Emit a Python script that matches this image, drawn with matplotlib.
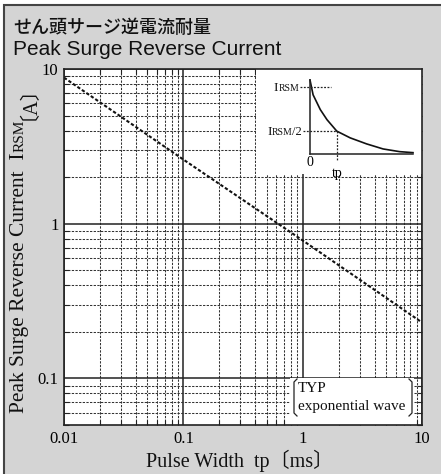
import matplotlib.pyplot as plt
from matplotlib.patches import Rectangle
from matplotlib.lines import Line2D
from matplotlib.ticker import FixedLocator, NullFormatter

# main curve
pulse_ms = [0.01, 0.1, 1, 10]
current_a = [8.8, 2.6, 0.78, 0.23]

x_ticks = [0.01, 0.1, 1, 10]
x_labels = ['0.01', '0.1', '1', '10']
y_ticks = [0.1, 1, 10]
y_labels = ['0.1', '1', '10']

# inset sketch of the exponential pulse
wave_t = [0.0, 0.03, 0.10, 0.165, 0.26, 0.39, 0.55, 0.71, 0.87, 1.0]
wave_i = [1.10, 0.88, 0.66, 0.51, 0.34, 0.24, 0.15, 0.075, 0.035, 0.02]
irsm_level = 1.0
half_level = 0.34
tp_pos = 0.26

W, H = 441, 474
serif = ['Liberation Serif', 'Noto Sans CJK JP']


def px(x, y):
    return x / W, 1 - y / H


fig = plt.figure(figsize=(W / 100, H / 100), dpi=100)
fig.patch.set_facecolor('white')
fig.patches.append(Rectangle(px(4, 480), 460 / W, 475 / H, transform=fig.transFigure,
                             facecolor='#d4d4d4', edgecolor='#444444', lw=1.5, zorder=-5))

fig.text(*px(13, 33), 'せん頭サージ逆電流耐量', family=['Noto Sans CJK JP'],
         fontsize=13, weight='medium', va='baseline', color='#111111')
fig.text(*px(13, 55), 'Peak Surge Reverse Current', family=['Liberation Sans'],
         fontsize=15, va='baseline', color='#111111')

ax = fig.add_axes([64 / W, 1 - 425 / H, 358 / W, 356 / H])
ax.set_xscale('log')
ax.set_yscale('log')
ax.set_xlim(0.01, 10)
ax.set_ylim(0.05, 10)
ax.set_facecolor('white')
ax.set_axisbelow(True)

ax.xaxis.set_major_locator(FixedLocator(x_ticks))
ax.yaxis.set_major_locator(FixedLocator(y_ticks))
ax.set_xticklabels(x_labels, family=serif, fontsize=12)
ax.set_yticklabels(y_labels, family=serif, fontsize=12)
ax.xaxis.set_minor_locator(FixedLocator([m * d for d in [0.01, 0.1, 1] for m in range(2, 10)]))
ax.yaxis.set_minor_locator(FixedLocator([m * d for d in [0.01, 0.1, 1] for m in range(2, 10)]))
ax.xaxis.set_minor_formatter(NullFormatter())
ax.yaxis.set_minor_formatter(NullFormatter())
ax.tick_params(which='both', direction='in', top=True, right=True, color='#222222')
ax.tick_params(which='major', length=0, pad=4)
ax.tick_params(which='minor', length=3.5, width=0.8)
ax.grid(which='major', color='#222222', lw=1.1, ls='-')
ax.grid(which='minor', color='#333333', lw=0.75, ls=(0, (2.2, 1.3)))
for s in ax.spines.values():
    s.set_linewidth(1.2)
    s.set_color('#222222')

# white areas over the grid for the inset and the note
ax.add_patch(Rectangle((0.41, 2.1), 10 - 0.41, 10 - 2.1, facecolor='white',
                       edgecolor='none', zorder=1.2))
ax.add_patch(Rectangle((0.78, 0.05), 8.55 - 0.78, 0.101 - 0.05, facecolor='white',
                       edgecolor='none', zorder=1.2))

ax.plot(pulse_ms, current_a, color='#111111', lw=1.5, ls=(0, (1.6, 1.0)), zorder=2)

# note with tall brackets
fig.text(*px(298, 392), 'TYP', family=serif, fontsize=11, va='baseline', color='#111111')
fig.text(*px(298, 410), 'exponential wave', family=serif, fontsize=11, va='baseline',
         color='#111111')
for pts in ([(297, 379), (294, 382), (294, 413), (297, 416)],
            [(409, 379), (412, 382), (412, 413), (409, 416)]):
    xs, ys = zip(*[px(a, b) for a, b in pts])
    fig.add_artist(Line2D(xs, ys, transform=fig.transFigure, color='#222222', lw=0.9))

# inset
ins = fig.add_axes([310 / W, 1 - 154 / H, 103 / W, 74 / H])
ins.set_xlim(0, 1)
ins.set_ylim(0, 1.1)
ins.patch.set_alpha(0)
ins.set_xticks([])
ins.set_yticks([])
for k in ['top', 'right']:
    ins.spines[k].set_visible(False)
for k in ['left', 'bottom']:
    ins.spines[k].set_linewidth(1.1)
    ins.spines[k].set_color('#222222')
ins.plot(wave_t, wave_i, color='#111111', lw=1.2, clip_on=False)
dot = dict(color='#222222', lw=0.9, ls=(0, (1.5, 1.2)), clip_on=False)
ins.plot([-0.1, 0.2], [irsm_level, irsm_level], **dot)
ins.plot([-0.07, tp_pos], [half_level, half_level], **dot)
ins.plot([tp_pos, tp_pos], [half_level, -0.1], **dot)
ins.text(0, -0.03, '0', family=serif, fontsize=10, ha='center', va='top')
ins.text(tp_pos, -0.2, 'tp', family=serif, fontsize=10, ha='center', va='top')

r = fig.canvas.get_renderer()


def caps_right(xr, yb, big, small, tail=''):
    # right-aligned "I" + small caps part at a baseline (pixel coords)
    x = xr
    parts = [(small, 7), (big, 9.5)]
    if tail:
        parts = [(tail, 9), (small, 7), (big, 9.5)]
    for txt, size in parts:
        t = fig.text(*px(x, yb), txt, family=serif, fontsize=size, ha='right',
                     va='baseline', color='#111111')
        x -= t.get_window_extent(r).width


caps_right(299, 91, 'I', 'RSM')
caps_right(302, 135, 'I', 'RSM', '/2')

# y label built from pieces so that RSM is in small caps
x0, y0 = px(24, 413)
t = fig.text(x0, y0, 'Peak Surge Reverse Current  I', family=serif, fontsize=15.5,
             rotation=90, rotation_mode='anchor', ha='left', va='baseline', color='#111111')
yy = t.get_window_extent(r).y1
t = fig.text(x0, yy / H, 'RSM', family=serif, fontsize=11, rotation=90,
             rotation_mode='anchor', ha='left', va='baseline', color='#111111')
yy = t.get_window_extent(r).y1
fig.text(x0, yy / H, '〔A〕', family=serif, fontsize=14.5, rotation=90,
         rotation_mode='anchor', ha='left', va='baseline', color='#111111')

fig.text(*px(240, 467), 'Pulse Width  tp〔ms〕', family=serif, fontsize=14.5,
         ha='center', va='baseline', color='#111111')

fig.savefig('out.png', dpi=100)
